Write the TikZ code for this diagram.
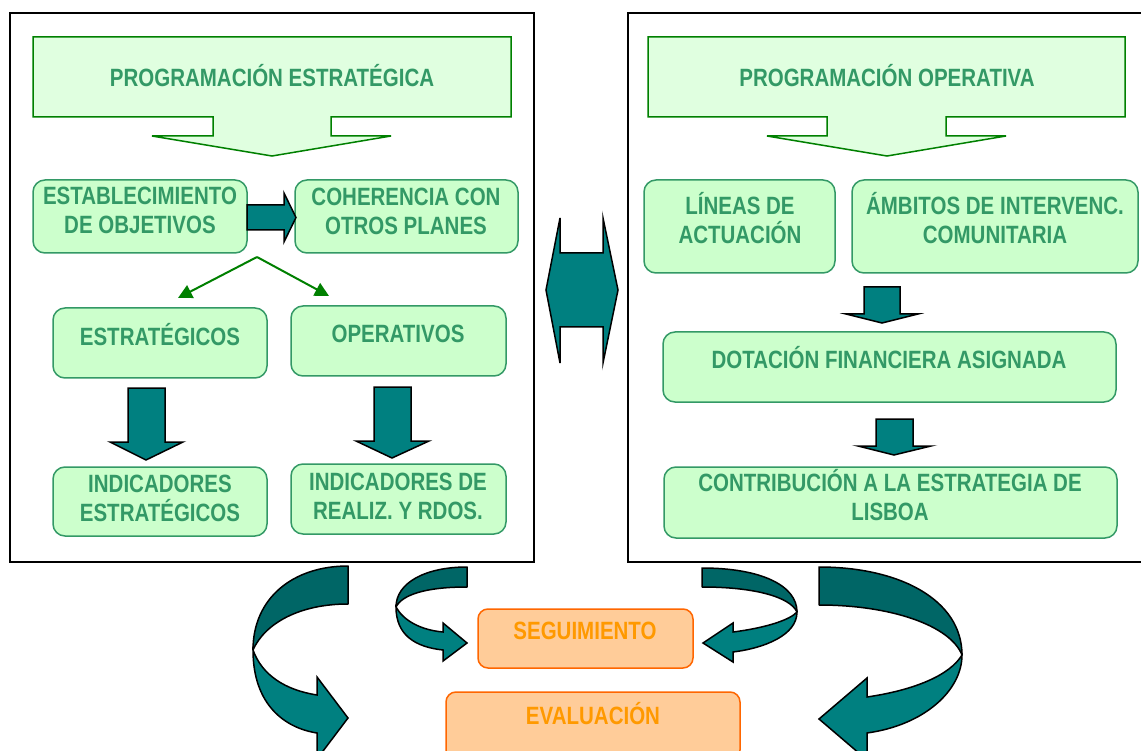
\documentclass[tikz,border=0pt]{standalone}
\usepackage{fontspec}
\setmainfont{Liberation Sans}
\newfontfamily\dfont{Liberation Sans}[FakeStretch=0.82]
\usetikzlibrary{arrows.meta}
\definecolor{boxfill}{HTML}{CCFFCC}
\definecolor{boxline}{HTML}{339966}
\definecolor{txtgreen}{HTML}{339966}
\definecolor{banfill}{HTML}{E0FFE0}
\definecolor{banline}{HTML}{008000}
\definecolor{tealfront}{HTML}{008080}
\definecolor{tealback}{HTML}{006666}
\definecolor{orfill}{HTML}{FFCC99}
\definecolor{orline}{HTML}{FF6600}
\definecolor{ortext}{HTML}{FF9900}
\begin{document}
\begin{tikzpicture}[x=1pt,y=-1pt,
  panel/.style={draw=black, line width=1.5pt},
  banner/.style={draw=banline, fill=banfill, line width=1.5pt, line join=miter},
  gbox/.style={draw=boxline, fill=boxfill, line width=1.5pt, rounded corners=12pt, inner sep=0pt},
  txt/.style={text=txtgreen, font=\dfont\bfseries\fontsize{25pt}{29pt}\selectfont, align=center, inner sep=0pt},
  onetxt/.style={txt, text height=18pt, text depth=0pt},
  obox/.style={draw=orline, fill=orfill, line width=1.5pt, rounded corners=10pt, inner sep=0pt},
  otxt/.style={text=ortext, font=\dfont\bfseries\fontsize{25pt}{29pt}\selectfont, inner sep=0pt, text height=18pt, text depth=0pt},
  blockarrow/.style={draw=black, fill=tealfront, line width=1.5pt, line join=miter},
  ribbonback/.style={draw=black, fill=tealback, line width=1.5pt, line join=round},
  ribbonfront/.style={draw=black, fill=tealfront, line width=1.5pt, line join=miter},
  gconn/.style={draw=banline, line width=2pt, -{Triangle[length=14pt,width=14pt]}}
]
\clip (0,0) rectangle (1141,751);
\fill[white] (0,0) rectangle (1141,751);

% panels
\draw[panel] (10,13) rectangle (534,562);
\draw[panel] (628,13) rectangle (1160,562);

% banners
\draw[banner] (33,37) -- (511,37) -- (511,117) -- (331,117) -- (331,136) -- (391,136) -- (272,156) -- (152,136) -- (213,136) -- (213,117) -- (33,117) -- cycle;
\node[onetxt] (banL) at (272,78) {PROGRAMACIÓN ESTRATÉGICA};
\draw[banner] (648,37) -- (1125,37) -- (1125,117) -- (946,117) -- (946,136) -- (1006,136) -- (887,156) -- (767,136) -- (827,136) -- (827,117) -- (648,117) -- cycle;
\node[onetxt] (banR) at (887,78) {PROGRAMACIÓN OPERATIVA};

% left boxes
\node[gbox, minimum width=214pt, minimum height=73pt] (estab) at (140,216.5) {};
\node[txt] (estabT) at (140,210) {ESTABLECIMIENTO\\DE OBJETIVOS};
\node[gbox, minimum width=223pt, minimum height=73pt] (coher) at (406.5,216.5) {};
\node[txt] (coherT) at (406,211) {COHERENCIA CON\\OTROS PLANES};
\node[gbox, minimum width=214pt, minimum height=70pt] (estr) at (160,343) {};
\node[onetxt] (estrT) at (160,336) {ESTRATÉGICOS};
\node[gbox, minimum width=215pt, minimum height=70pt] (oper) at (398.5,341) {};
\node[onetxt] (operT) at (398,334) {OPERATIVOS};
\node[gbox, minimum width=214pt, minimum height=69pt] (indest) at (160,501.5) {};
\node[txt] (indestT) at (160,498.5) {INDICADORES\\ESTRATÉGICOS};
\node[gbox, minimum width=215pt, minimum height=70pt] (indreal) at (398.5,499) {};
\node[txt] (indrealT) at (398,496.5) {INDICADORES DE\\REALIZ. Y RDOS.};

% right boxes
\node[gbox, minimum width=191pt, minimum height=93pt] (lineas) at (739.5,226.5) {};
\node[txt] (lineasT) at (740,218) {LÍNEAS DE\\ACTUACIÓN};
\node[gbox, minimum width=286pt, minimum height=93pt] (ambitos) at (995,226.5) {};
\node[txt] (ambitosT) at (995,218) {ÁMBITOS DE INTERVENC.\\COMUNITARIA};
\node[gbox, minimum width=453pt, minimum height=70pt] (dotac) at (889.5,367) {};
\node[onetxt] (dotacT) at (889,360) {DOTACIÓN FINANCIERA ASIGNADA};
\node[gbox, minimum width=453pt, minimum height=71pt] (contrib) at (890.5,502.5) {};
\node[txt] (contribT) at (890,495.5) {CONTRIBUCIÓN A LA ESTRATEGIA DE\\LISBOA};

% orange boxes
\node[obox, minimum width=215pt, minimum height=59pt] (segu) at (585.5,638.5) {};
\node[otxt] (seguT) at (585,630) {SEGUIMIENTO};
\node[obox, minimum width=294pt, minimum height=68pt] (evalu) at (593,726) {};
\node[otxt] (evaluT) at (593,715) {EVALUACIÓN};

% green split connectors
\coordinate (split) at (257,257);
\coordinate (toEstr) at (178,298);
\coordinate (toOper) at (329,296);
\draw[gconn] (split) -- (toEstr);
\draw[gconn] (split) -- (toOper);

% block arrows
\draw[blockarrow] (247,205) -- (284,205) -- (284,193) -- (296,217.5) -- (284,242) -- (284,230) -- (247,230) -- cycle;
\draw[blockarrow] (128,388) -- (165,388) -- (165,442) -- (183,442) -- (146,460) -- (110,442) -- (128,442) -- cycle;
\draw[blockarrow] (374,387) -- (411,387) -- (411,441) -- (429,441) -- (392,458) -- (356,441) -- (374,441) -- cycle;
\draw[blockarrow] (864,287) -- (900,287) -- (900,314) -- (918,314) -- (882,323) -- (846,314) -- (864,314) -- cycle;
\draw[blockarrow] (876,419) -- (913,419) -- (913,446) -- (931,446) -- (894,455) -- (858,446) -- (876,446) -- cycle;

% double arrow between panels
\draw[blockarrow] (546,290) -- (560,218) -- (560,253) -- (603,253) -- (603,218) -- (618,290) -- (603,363) -- (603,327) -- (560,327) -- (560,363) -- cycle;

% big left ribbon
\draw[ribbonback] (348,566) .. controls (293,566) and (253,598) .. (253,650) .. controls (265,623) and (300,604) .. (348,604) -- cycle;
\draw[ribbonfront] (253,650) .. controls (253,705) and (285,728) .. (317,733) -- (317,759) -- (348,718) -- (317,677) -- (317,695) .. controls (285,690) and (262,675) .. (253,650) -- cycle;

% small left ribbon
\draw[ribbonback] (467,567) .. controls (425,567) and (396,583) .. (396,607) .. controls (402,595) and (425,587) .. (467,587) -- cycle;
\draw[ribbonfront] (396,607) .. controls (396,635) and (415,647) .. (443,650) -- (443,661) -- (467,643) -- (443,623) -- (443,632) .. controls (420,630) and (403,620) .. (396,607) -- cycle;

% small right ribbon
\draw[ribbonback] (702,568) .. controls (760,568) and (797,585) .. (797,612) .. controls (790,597) and (755,587) .. (702,587) -- cycle;
\draw[ribbonfront] (797,612) .. controls (797,635) and (765,648) .. (733,652) -- (733,662) -- (703,643) -- (733,623) -- (733,632) .. controls (765,628) and (790,620) .. (797,612) -- cycle;

% big right ribbon
\draw[ribbonback] (819,567) .. controls (900,567) and (962,600) .. (962,655) .. controls (950,625) and (890,605) .. (819,605) -- cycle;
\draw[ribbonfront] (962,655) .. controls (962,690) and (925,725) .. (867,733) -- (867,760) -- (819,719) -- (867,678) -- (867,697) .. controls (915,690) and (950,675) .. (962,655) -- cycle;
\end{tikzpicture}
\end{document}
